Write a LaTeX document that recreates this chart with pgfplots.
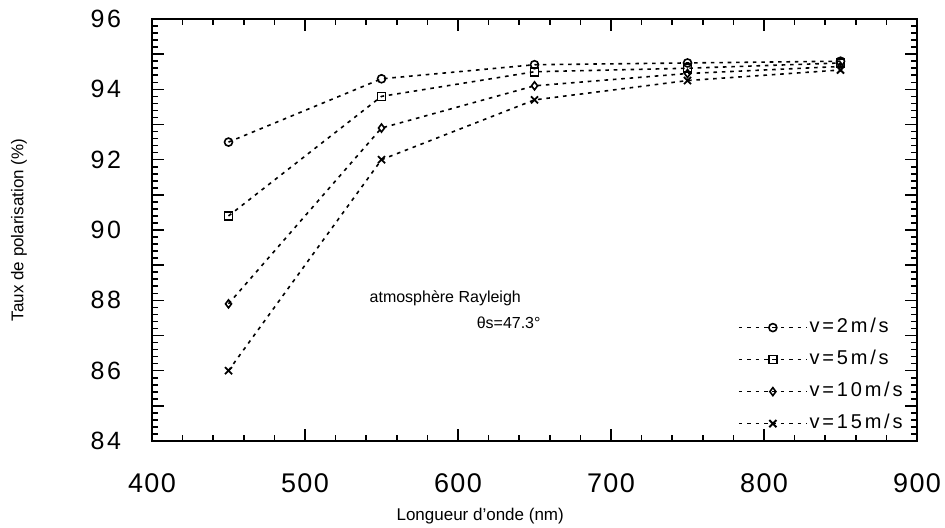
\documentclass[border=0pt]{standalone}
\usepackage{fontspec}
\setmainfont{Liberation Sans}
\newfontfamily\ytickfont[LetterSpace=10]{Liberation Sans}
\newfontfamily\xtickfont[LetterSpace=5]{Liberation Sans}
\newfontfamily\legfont[LetterSpace=14]{Liberation Sans}
\usepackage{pgfplots}
\pgfplotsset{compat=1.18}
\begin{document}
\begin{tikzpicture}
\path[use as bounding box] (-76pt,-43pt) rectangle (396.5pt,220.5pt);
\begin{axis}[
  scale only axis, width=382.5pt, height=211pt,
  xmin=400, xmax=900, ymin=84, ymax=96,
  xtick={400,500,...,900}, ytick={84,85,...,96},
  yticklabels={84,,86,,88,,90,,92,,94,,96},
  minor x tick num=4, minor y tick num=4,
  tick align=inside,
  major tick length=6pt, minor tick length=3pt,
  axis line style={line width=1pt},
  tick style={black, line width=0.8pt},
  /pgf/number format/assume math mode=true,
  xticklabel style={font=\xtickfont\fontsize{13.5}{15}\selectfont, yshift=-13pt},
  yticklabel style={font=\ytickfont\fontsize{12.5}{14}\selectfont, xshift=-12pt},
  xlabel={Longueur d'onde (nm)},
  ylabel={Taux de polarisation (\%)},
  label style={font=\fontsize{8.5}{10}\selectfont},
  xlabel style={at={(axis description cs:0.429,-0.178)}, anchor=center},
  ylabel style={at={(axis description cs:-0.174,0.5)}, anchor=center, rotate=0},
  legend image code/.code={\draw[mark repeat=2,mark phase=2,#1] plot coordinates {(0pt,0pt)(17pt,0pt)(34pt,0pt)};},
  legend style={at={(rel axis cs:1,0)}, anchor=south east, xshift=-6pt, yshift=3pt,
    draw=none, fill=none, inner sep=0pt, row sep=5pt,
    nodes={inner sep=1pt, text height=7pt, text depth=2pt},
    /tikz/every even column/.append style={column sep=4pt},
    font=\legfont\fontsize{10}{12}\selectfont},
  legend cell align=left,
]
\addplot[black, line width=0.8pt, dash pattern=on 1.8pt off 2.4pt, mark=o, mark size=2pt, mark options={solid, fill=white, line width=0.8pt}] coordinates {(450,92.5)(550,94.3)(650,94.7)(750,94.75)(850,94.8)};
\addlegendentry{v=2m/s}
\addplot[black, line width=0.8pt, dash pattern=on 1.8pt off 2.4pt, mark=square, mark size=2pt, mark options={solid, fill=white, line width=0.8pt}] coordinates {(450,90.4)(550,93.8)(650,94.5)(750,94.6)(850,94.75)};
\addlegendentry{v=5m/s}
\addplot[black, line width=0.8pt, dash pattern=on 1.8pt off 2.4pt, mark=diamond, mark size=2pt, mark options={solid, fill=white, line width=0.8pt}] coordinates {(450,87.9)(550,92.9)(650,94.1)(750,94.45)(850,94.65)};
\addlegendentry{v=10m/s}
\addplot[black, line width=0.8pt, dash pattern=on 1.8pt off 2.4pt, mark=x, mark size=2.5pt, mark options={solid, line width=0.9pt}] coordinates {(450,86.0)(550,92.0)(650,93.7)(750,94.25)(850,94.55)};
\addlegendentry{v=15m/s}
\node[anchor=west, font=\fontsize{8}{10}\selectfont, inner sep=0pt] at (axis cs:542,88.07) {atmosphère Rayleigh};
\node[anchor=west, font=\fontsize{8}{10}\selectfont, inner sep=0pt] at (axis cs:612,87.36) {θs=47.3°};
\end{axis}
\end{tikzpicture}
\end{document}
